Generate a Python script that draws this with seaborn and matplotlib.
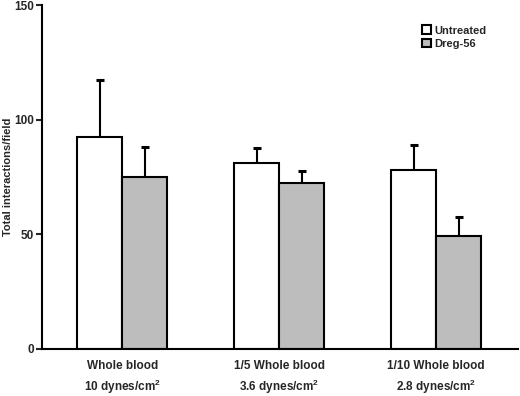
import pandas as pd
import seaborn as sns
import matplotlib.pyplot as plt
import numpy as np

# data
conditions = ['Whole blood', '1/5 Whole blood', '1/10 Whole blood']
shear = ['10 dynes/cm$^\\mathbf{2}$', '3.6 dynes/cm$^\\mathbf{2}$', '2.8 dynes/cm$^\\mathbf{2}$']
treatments = ['Untreated', 'Dreg-56']
untreated = [92.3, 81.0, 78.0]
dreg56 = [75.0, 72.3, 49.4]
untreated_err = [25.1, 6.8, 11.0]
dreg56_err = [13.2, 5.3, 8.0]

df = pd.DataFrame({
    'condition': conditions * 2,
    'treatment': [treatments[0]] * 3 + [treatments[1]] * 3,
    'value': untreated + dreg56,
})

sns.set_style('white')
plt.rcParams['font.family'] = ['Liberation Sans', 'DejaVu Sans']
plt.rcParams['font.weight'] = 'bold'
plt.rcParams['mathtext.fontset'] = 'custom'
plt.rcParams['mathtext.bf'] = 'Liberation Sans:bold'
plt.rcParams['mathtext.rm'] = 'Liberation Sans:bold'

fig = plt.figure(figsize=(5.2, 3.96), dpi=100)
ax = fig.add_axes([0.081, 0.119, 0.915, 0.868])

bw = 0.575
x = np.arange(len(conditions))

# upward-only error bars, drawn under the bars
for i, (vals, errs) in enumerate([(untreated, untreated_err), (dreg56, dreg56_err)]):
    xpos = x - bw / 4 + i * bw / 2
    tops = np.array(vals) + np.array(errs)
    ax.vlines(xpos, vals, tops, color='black', linewidth=1.5, zorder=1)
    ax.plot(xpos, tops, ls='none', marker='_', ms=6, mew=2.2, color='black', zorder=1)

sns.barplot(data=df, x='condition', y='value', hue='treatment',
            palette=['white', '#bdbdbd'], edgecolor='black', linewidth=1.5,
            width=bw, errorbar=None, ax=ax, zorder=2)

ax.set_ylim(0, 150)
ax.set_xlim(-0.51, 2.52)
ax.set_yticks([0, 50, 100, 150])
ax.set_ylabel('Total interactions/field', fontsize=8, fontweight='bold')
ax.yaxis.set_label_coords(-0.061, 0.5)
ax.set_xlabel('')
ax.tick_params(axis='y', direction='out', length=4, width=1.5, labelsize=8.5, pad=2, left=True)
ax.tick_params(axis='x', length=0, labelsize=8.5, pad=8)
for lab in ax.get_xticklabels() + ax.get_yticklabels():
    lab.set_fontweight('bold')

# second line of category labels: shear stress
for xi, s in zip(x, shear):
    ax.annotate(s, xy=(xi, 0), xycoords=('data', 'axes fraction'),
                xytext=(0, -21), textcoords='offset points',
                ha='center', va='top', fontsize=8.5, fontweight='bold')

sns.despine(ax=ax)
ax.spines['left'].set_linewidth(1.5)
ax.spines['bottom'].set_linewidth(1.5)
ax.spines['left'].set_color('black')
ax.spines['bottom'].set_color('black')

leg = ax.legend(loc='upper right', bbox_to_anchor=(0.955, 0.97), frameon=False,
                fontsize=8, handlelength=0.8, handleheight=0.8, handletextpad=0.3,
                labelspacing=0.3)
for t in leg.get_texts():
    t.set_fontweight('bold')

fig.savefig('out.png', dpi=100)
